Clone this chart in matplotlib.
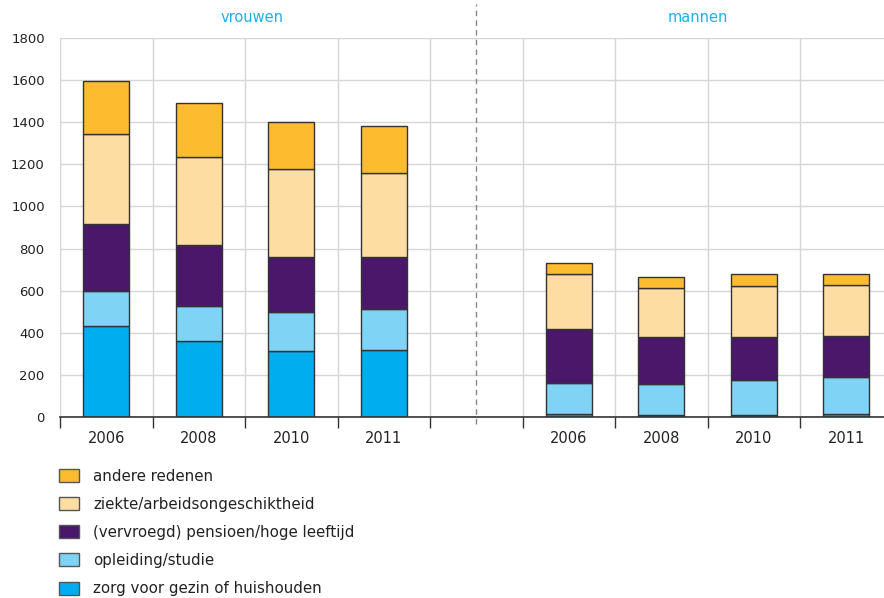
import matplotlib.pyplot as plt
from matplotlib.patches import Patch

# data
jaren = ['2006', '2008', '2010', '2011', '', '2006', '2008', '2010', '2011']
redenen = ['zorg voor gezin of huishouden', 'opleiding/studie',
           '(vervroegd) pensioen/hoge leeftijd', 'ziekte/arbeidsongeschiktheid',
           'andere redenen']
zorg = [430, 360, 314, 317, 0, 11, 7, 7, 11]
opleiding = [168, 167, 184, 194, 0, 148, 149, 168, 179]
pensioen = [318, 288, 262, 249, 0, 260, 223, 204, 195]
ziekte = [428, 420, 417, 399, 0, 261, 235, 244, 242]
andere = [252, 256, 226, 222, 0, 50, 49, 54, 52]
groepen = ['vrouwen', 'mannen']

kleuren = ['#00aeef', '#7fd3f5', '#4a176b', '#fddda2', '#fdbb30']
reeksen = [zorg, opleiding, pensioen, ziekte, andere]

plt.rcParams['font.family'] = ['DejaVu Sans']

fig = plt.figure(figsize=(8.84, 5.98), dpi=100)
ax = fig.add_axes([60 / 884, 1 - 416.7 / 598, 832.5 / 884, 378.4 / 598])

x = [i + 0.5 for i in range(len(jaren))]
idx = [i for i in range(len(jaren)) if jaren[i]]
onder = [0] * len(jaren)
for r, kl in zip(reeksen, kleuren):
    ax.bar([x[i] for i in idx], [r[i] for i in idx],
           bottom=[onder[i] for i in idx],
           width=0.5, color=kl, edgecolor='#333333', linewidth=1, zorder=3)
    onder = [o + h for o, h in zip(onder, r)]

ax.set_xlim(0, 9)
ax.set_ylim(0, 1800)
ax.set_yticks(range(0, 1801, 200))
ax.set_xticks(range(0, 10))
ax.set_xticklabels([])
ax.set_xticks(x, minor=True)
ax.set_xticklabels(jaren, minor=True)
ax.tick_params(axis='x', which='major', length=8, width=1, color='#333333', direction='out')
ax.tick_params(axis='x', which='minor', length=0, labelsize=10.5, pad=10, colors='#222222')
ax.tick_params(axis='y', length=0, labelsize=9.5, pad=11, colors='#222222')

ax.grid(True, which='major', color='#d6d6d6', linewidth=1, zorder=0)
for s in ['top', 'right', 'left']:
    ax.spines[s].set_visible(False)
ax.spines['bottom'].set_color('#333333')
ax.spines['bottom'].set_linewidth(1.2)
ax.spines['bottom'].set_zorder(4)

ax.axvline(4.5, ymin=-0.02, ymax=1.09, color='#888888', linestyle=(0, (4, 3)),
           linewidth=1, clip_on=False, zorder=5)

ax.text(2.08, 1.055, groepen[0], transform=ax.get_xaxis_transform(),
        ha='center', va='center', color='#1cb0ea', fontsize=10.5)
ax.text(6.9, 1.055, groepen[1], transform=ax.get_xaxis_transform(),
        ha='center', va='center', color='#1cb0ea', fontsize=10.5)

handles = [Patch(facecolor=kl, edgecolor='#555555', label=lab)
           for kl, lab in zip(kleuren, redenen)][::-1]
fig.legend(handles=handles, loc='upper left', bbox_to_anchor=(45 / 884, 1 - 455 / 598),
           frameon=False, fontsize=10.8, handlelength=1.35, handleheight=0.95,
           handletextpad=0.95, labelspacing=0.88, labelcolor='#222222')

fig.savefig('out.png', dpi=100)
